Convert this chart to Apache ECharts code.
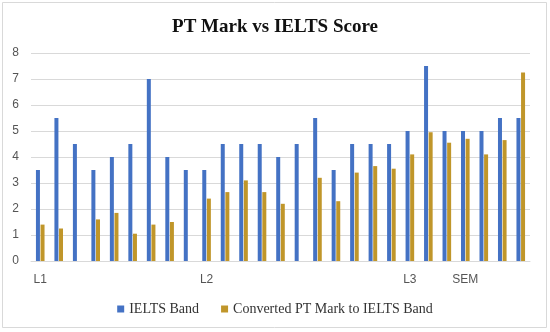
<!DOCTYPE html>
<html><head><meta charset="utf-8">
<script src="https://cdn.jsdelivr.net/npm/echarts@6/dist/echarts.min.js"></script>
<style>html,body{margin:0;padding:0;background:#fff}#c{width:550px;height:332px}</style>
</head><body><div id="c"></div>
<script>
const categories = ['1','2','3','4','5','6','7','8','9','10','11','12','13','14','15','16','17','18','19','20','21','22','23','24','25','26','27'];
const tickLabels = ['L1','','','','','','','','','L2','','','','','','','','','','','L3','','','SEM','','',''];
const ieltsBand = [3.5,5.5,4.5,3.5,4.0,4.5,7.0,4.0,3.5,3.5,4.5,4.5,4.5,4.0,4.5,5.5,3.5,4.5,4.5,4.5,5.0,7.5,5.0,5.0,5.0,5.5,5.5];
const convertedPT = [1.4,1.25,null,1.6,1.85,1.05,1.4,1.5,null,2.4,2.65,3.1,2.65,2.2,null,3.2,2.3,3.4,3.65,3.55,4.1,4.95,4.55,4.7,4.1,4.65,7.25];
const yTicks = {min:0, max:8, interval:1};

const chart = echarts.init(document.getElementById('c'));
chart.setOption({
  animation:false,
  backgroundColor:'#fff',
  graphic:[{type:'rect',shape:{x:2.5,y:2.5,width:544,height:325},style:{fill:'none',stroke:'#d9d9d9',lineWidth:1}}],
  title:{text:'PT Mark vs IELTS Score',left:'center',top:13,
    textStyle:{fontFamily:'Liberation Serif',fontWeight:'bold',fontSize:19,color:'#111'}},
  legend:{bottom:11,left:'center',itemWidth:7,itemHeight:7,itemGap:22,icon:'rect',
    textStyle:{fontFamily:'Liberation Serif',fontSize:14,color:'#333'},
    data:['IELTS Band','Converted PT Mark to IELTS Band']},
  grid:{left:31,right:20,top:53,bottom:71,containLabel:false},
  xAxis:{type:'category',data:categories,
    axisLine:{lineStyle:{color:'#d9d9d9'}},axisTick:{show:false},
    axisLabel:{interval:0,margin:13,color:'#555',fontFamily:'Liberation Sans',fontSize:12,
      formatter:(v,i)=>tickLabels[i]}},
  yAxis:{type:'value',min:yTicks.min,max:yTicks.max,interval:yTicks.interval,
    axisLabel:{color:'#555',fontFamily:'Liberation Sans',fontSize:12,margin:12},
    splitLine:{lineStyle:{color:'#d9d9d9',width:1}},axisLine:{show:false},axisTick:{show:false}},
  series:[
    {name:'IELTS Band',type:'bar',data:ieltsBand,barWidth:4,barGap:'15%',itemStyle:{color:'#4472C4'}},
    {name:'Converted PT Mark to IELTS Band',type:'bar',data:convertedPT,barWidth:4,itemStyle:{color:'#C0962A'}}
  ]
});
</script></body></html>
